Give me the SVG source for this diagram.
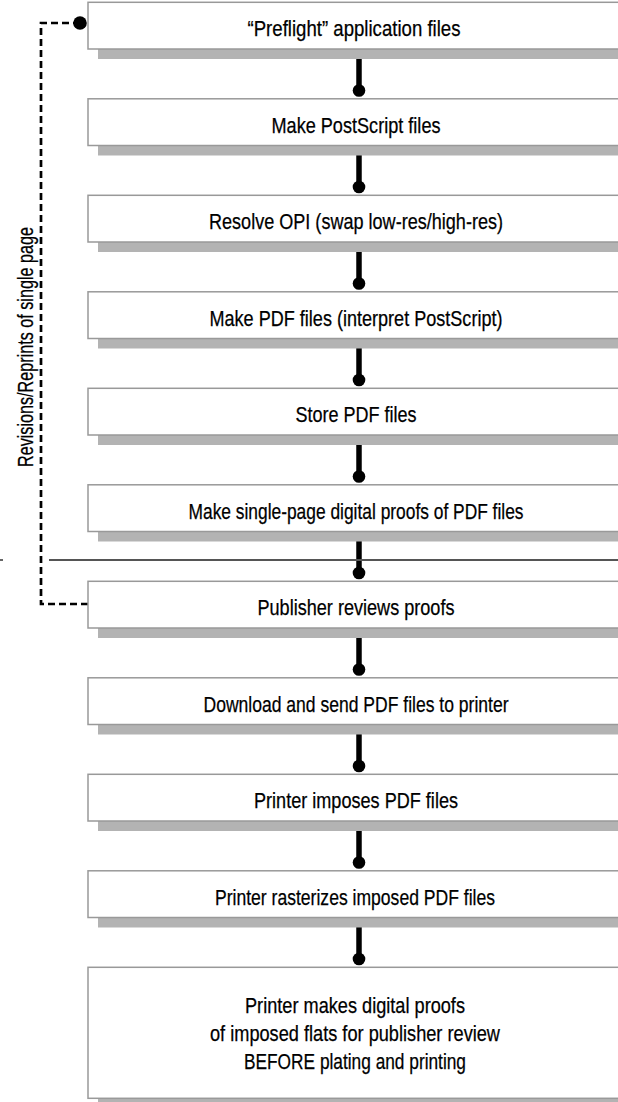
<svg xmlns="http://www.w3.org/2000/svg" width="618" height="1102" viewBox="0 0 618 1102">
<style>
.box{fill:#fff;stroke:#999;stroke-width:1.5}
.sh{fill:#b3b3b3}
.t{font-family:"Liberation Sans",Arial,sans-serif;font-size:22px;fill:#000;stroke:#000;stroke-width:0.25;text-anchor:middle}
.conn{stroke:#000;stroke-width:5.5}
.dash{fill:none;stroke:#000;stroke-width:2.7;stroke-dasharray:7 4}
</style>
<rect width="618" height="1102" fill="#fff"/>
<g id="connectors">
<line class="conn" x1="359" y1="58" x2="359" y2="90"/><circle cx="359" cy="90.5" r="6.3"/>
<line class="conn" x1="359" y1="155" x2="359" y2="187"/><circle cx="359" cy="187" r="6.3"/>
<line class="conn" x1="359" y1="251" x2="359" y2="283"/><circle cx="359" cy="283.5" r="6.3"/>
<line class="conn" x1="359" y1="348" x2="359" y2="380"/><circle cx="359" cy="380" r="6.3"/>
<line class="conn" x1="359" y1="444" x2="359" y2="476"/><circle cx="359" cy="476.5" r="6.3"/>
<line class="conn" x1="359" y1="541" x2="359" y2="573"/><circle cx="359" cy="573" r="6.3"/>
<line class="conn" x1="359" y1="637" x2="359" y2="669"/><circle cx="359" cy="669.5" r="6.3"/>
<line class="conn" x1="359" y1="734" x2="359" y2="766"/><circle cx="359" cy="766" r="6.3"/>
<line class="conn" x1="359" y1="830" x2="359" y2="862"/><circle cx="359" cy="862.5" r="6.3"/>
<line class="conn" x1="359" y1="927" x2="359" y2="959"/><circle cx="359" cy="959" r="6.3"/>
<path class="dash" d="M80,23 H41 V604 H88"/>
<circle cx="80" cy="23" r="6.8"/>
<line x1="49" y1="560" x2="618" y2="560" stroke="#555" stroke-width="1.8"/>
<line x1="0" y1="560" x2="3" y2="560" stroke="#555" stroke-width="1.8"/>
</g>
<text class="t" transform="translate(33,347) rotate(-90)" x="0" y="0" textLength="240" lengthAdjust="spacingAndGlyphs">Revisions/Reprints of single page</text>
<g id="n1"><rect class="sh" x="98" y="12.3" width="560" height="46.7"/><rect class="box" x="88" y="2.3" width="560" height="46.7"/><text class="t" x="354" y="36" textLength="213" lengthAdjust="spacingAndGlyphs">“Preflight” application files</text></g>
<g id="n2"><rect class="sh" x="98" y="108.8" width="560" height="46.7"/><rect class="box" x="88" y="98.8" width="560" height="46.7"/><text class="t" x="356" y="132.5" textLength="169" lengthAdjust="spacingAndGlyphs">Make PostScript files</text></g>
<g id="n3"><rect class="sh" x="98" y="205.3" width="560" height="46.7"/><rect class="box" x="88" y="195.3" width="560" height="46.7"/><text class="t" x="356" y="229" textLength="294" lengthAdjust="spacingAndGlyphs">Resolve OPI (swap low-res/high-res)</text></g>
<g id="n4"><rect class="sh" x="98" y="301.8" width="560" height="46.7"/><rect class="box" x="88" y="291.8" width="560" height="46.7"/><text class="t" x="356" y="325.5" textLength="293" lengthAdjust="spacingAndGlyphs">Make PDF files (interpret PostScript)</text></g>
<g id="n5"><rect class="sh" x="98" y="398.3" width="560" height="46.7"/><rect class="box" x="88" y="388.3" width="560" height="46.7"/><text class="t" x="356" y="422" textLength="121" lengthAdjust="spacingAndGlyphs">Store PDF files</text></g>
<g id="n6"><rect class="sh" x="98" y="494.8" width="560" height="46.7"/><rect class="box" x="88" y="484.8" width="560" height="46.7"/><text class="t" x="356" y="518.5" textLength="335" lengthAdjust="spacingAndGlyphs">Make single-page digital proofs of PDF files</text></g>
<g id="n7"><rect class="sh" x="98" y="591.3" width="560" height="46.7"/><rect class="box" x="88" y="581.3" width="560" height="46.7"/><text class="t" x="356" y="615" textLength="197" lengthAdjust="spacingAndGlyphs">Publisher reviews proofs</text></g>
<g id="n8"><rect class="sh" x="98" y="687.8" width="560" height="46.7"/><rect class="box" x="88" y="677.8" width="560" height="46.7"/><text class="t" x="356" y="711.5" textLength="305" lengthAdjust="spacingAndGlyphs">Download and send PDF files to printer</text></g>
<g id="n9"><rect class="sh" x="98" y="784.3" width="560" height="46.7"/><rect class="box" x="88" y="774.3" width="560" height="46.7"/><text class="t" x="356" y="808" textLength="204" lengthAdjust="spacingAndGlyphs">Printer imposes PDF files</text></g>
<g id="n10"><rect class="sh" x="98" y="880.8" width="560" height="46.7"/><rect class="box" x="88" y="870.8" width="560" height="46.7"/><text class="t" x="355" y="904.5" textLength="280" lengthAdjust="spacingAndGlyphs">Printer rasterizes imposed PDF files</text></g>
<g id="n11"><rect class="sh" x="98" y="977.3" width="560" height="131"/><rect class="box" x="88" y="967.3" width="560" height="131"/>
<text class="t" x="355" y="1013" textLength="220" lengthAdjust="spacingAndGlyphs">Printer makes digital proofs</text>
<text class="t" x="355" y="1041" textLength="290" lengthAdjust="spacingAndGlyphs">of imposed flats for publisher review</text>
<text class="t" x="355" y="1069" textLength="222" lengthAdjust="spacingAndGlyphs">BEFORE plating and printing</text></g>
</svg>
